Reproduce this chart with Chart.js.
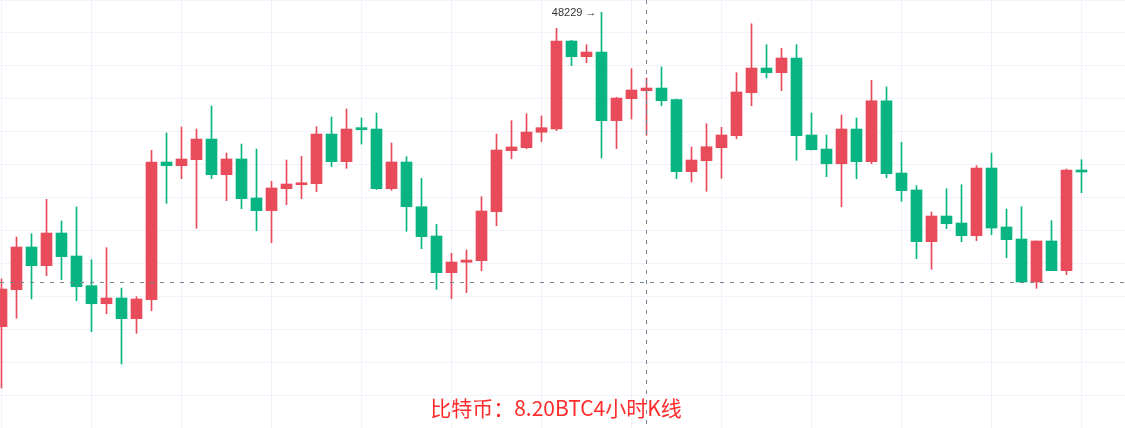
<!DOCTYPE html>
<html>
<head>
<meta charset="utf-8">
<title>比特币 4小时K线</title>
<script src="https://cdn.jsdelivr.net/npm/chart.js@4.4.1/dist/chart.umd.min.js"></script>
<style>
  html, body { margin: 0; padding: 0; background: #fff; }
  #wrap { width: 1125px; height: 428px; }
</style>
</head>
<body>
<div id="wrap"><canvas id="kline"></canvas></div>
<script>
// 4h candles (oldest first)
const opens = [43329, 43905, 44571, 44280, 44789, 44431, 43968, 43687, 43776, 43454,
  43750, 45896, 45838, 45932, 46254, 45698, 45943, 45335, 45137, 45480,
  45542, 45558, 46332, 45901, 46431, 46410, 45480, 45896, 45199, 44743,
  44171, 44333, 44358, 45121, 46072, 46119, 46359, 46410, 47782, 47537,
  47610, 46540, 46883, 47007, 47049, 46867, 45745, 45916, 46119, 46306,
  46976, 47361, 47288, 47517, 46317, 46098, 45869, 46410, 45901, 46851,
  45724, 45460, 44654, 45054, 44945, 44747, 45802, 44883, 44696, 44025,
  44665, 44202, 45771];
const closes = [43916, 44571, 44280, 44789, 44420, 43952, 43687, 43776, 43454, 43761,
  45896, 45838, 45943, 46254, 45698, 45943, 45324, 45137, 45491, 45553,
  45573, 46332, 45901, 46410, 46399, 45480, 45896, 45199, 44732, 44171,
  44337, 44368, 45132, 46083, 46130, 46363, 46431, 47782, 47537, 47610,
  46540, 46893, 47018, 47049, 46851, 45745, 45927, 46134, 46317, 46987,
  47361, 47288, 47517, 46306, 46088, 45869, 46410, 45901, 46851, 45714,
  45449, 44654, 45054, 44934, 44747, 45802, 44867, 44685, 44025, 44665,
  44202, 45771, 45740];
const highs = [44072, 44727, 44778, 45315, 44976, 45195, 44373, 44560, 43932, 43796,
  46078, 46348, 46441, 46410, 46769, 46036, 46176, 46098, 45595, 45927,
  45985, 46446, 46597, 46722, 46582, 46660, 46192, 45979, 45642, 44925,
  44473, 44524, 45355, 46332, 46540, 46649, 46613, 47980, 47790, 47724,
  48229, 46904, 47350, 47205, 47377, 46878, 46130, 46493, 46437, 47288,
  48051, 47724, 47668, 47724, 46660, 46317, 46628, 46582, 47169, 47065,
  46203, 45527, 45117, 45480, 45542, 45838, 46036, 45163, 45199, 44665,
  44981, 45787, 45932];
const lows = [42373, 43460, 43761, 44124, 44061, 43734, 43251, 43532, 42748, 43226,
  43578, 45252, 45636, 44863, 45636, 45293, 45168, 44825, 44638, 45230,
  45324, 45433, 45823, 45798, 46176, 45467, 45455, 44816, 44545, 43912,
  43765, 43859, 44202, 44903, 45947, 46103, 46212, 46384, 47397, 47444,
  45958, 46103, 46566, 46312, 46773, 45636, 45584, 45439, 45642, 46259,
  46773, 47205, 47007, 45922, 46083, 45667, 45199, 45636, 45869, 45651,
  45283, 44389, 44224, 44856, 44654, 44669, 44763, 44404, 44015, 43927,
  44202, 44139, 45417];

// crosshair position
const crossIndex = 43;
const crossPrice = 44021;

const titleText = '比特币：8.20BTC4小时K线';

const upColor = '#e84b59';
const downColor = '#08b582';

const candleColor = ctx => closes[ctx.dataIndex] >= opens[ctx.dataIndex] ? upColor : downColor;

let maxIdx = 0;
highs.forEach((h, i) => { if (h > highs[maxIdx]) maxIdx = i; });

const overlayPlugin = {
    id: 'overlay',
    afterDatasetsDraw(chart) {
        const { ctx, scales: { x, y } } = chart;
        const w = chart.width, h = chart.height;

        // crosshair
        ctx.save();
        ctx.strokeStyle = '#758696';
        ctx.lineWidth = 1;
        ctx.setLineDash([4, 6]);
        const cx = Math.floor(x.getPixelForValue(crossIndex)) + 0.5;
        const cy = Math.floor(y.getPixelForValue(crossPrice)) + 0.5;
        ctx.beginPath();
        ctx.moveTo(cx, 0);
        ctx.lineTo(cx, h);
        ctx.moveTo(0, cy);
        ctx.lineTo(w, cy);
        ctx.stroke();
        ctx.restore();

        // highest price marker
        ctx.save();
        ctx.font = '11px "Liberation Sans", Arial, sans-serif';
        ctx.fillStyle = '#333';
        ctx.textAlign = 'right';
        ctx.textBaseline = 'middle';
        const hx = x.getPixelForValue(maxIdx);
        const hy = y.getPixelForValue(highs[maxIdx]);
        ctx.fillText(highs[maxIdx] + ' \u2192', hx - 5, hy + 1);
        ctx.restore();

        // caption
        ctx.save();
        ctx.font = '21px "Noto Sans CJK SC", sans-serif';
        ctx.fillStyle = '#ff2b2b';
        ctx.textAlign = 'center';
        ctx.textBaseline = 'middle';
        ctx.fillText(titleText, 556, 408);
        ctx.restore();
    }
};

const ctx = document.getElementById('kline').getContext('2d');
const klineChart = new Chart(ctx, {
    type: 'bar',
    data: {
        datasets: [
            {
                label: 'body',
                data: opens.map((o, i) => ({ x: i, y: [o, closes[i]] })),
                backgroundColor: candleColor,
                borderWidth: 0,
                barThickness: 11,
                grouped: false
            },
            {
                label: 'wick',
                data: lows.map((l, i) => ({ x: i, y: [l, highs[i]] })),
                backgroundColor: candleColor,
                borderWidth: 0,
                barThickness: 1,
                grouped: false
            }
        ]
    },
    options: {
        responsive: true,
        maintainAspectRatio: false,
        animation: false,
        layout: { padding: 0 },
        plugins: {
            legend: { display: false },
            tooltip: { enabled: false }
        },
        scales: {
            x: {
                type: 'linear',
                min: -0.1,
                max: 74.9,
                offset: false,
                grid: { offset: false, color: '#f0f3fa', drawTicks: false },
                border: { display: false },
                ticks: { display: false, stepSize: 6, includeBounds: false }
            },
            y: {
                min: 41750,
                max: 48421,
                grid: { color: '#f0f3fa', drawTicks: false },
                border: { display: false },
                ticks: { display: false, stepSize: 500, includeBounds: false }
            }
        }
    },
    plugins: [overlayPlugin]
});
</script>
</body>
</html>
